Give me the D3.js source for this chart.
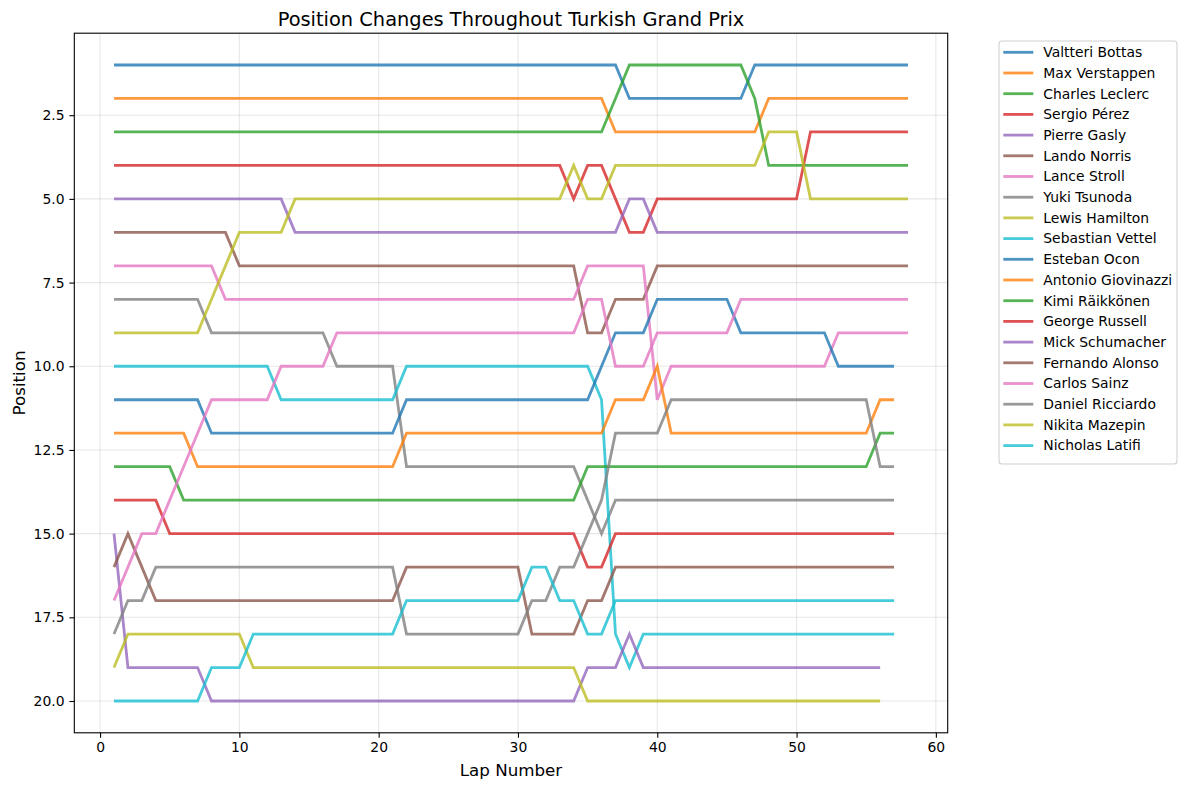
<!DOCTYPE html>
<html>
<head>
<meta charset="utf-8">
<script src="https://cdn.jsdelivr.net/npm/d3@7"></script>
<style>
  body { margin: 0; background: #fff; }
  svg { font-family: "DejaVu Sans", sans-serif; }
</style>
</head>
<body>
<svg id="chart" width="1187" height="790"></svg>
<script>
// driver names, in legend order
const drivers = [
  "Valtteri Bottas", "Max Verstappen", "Charles Leclerc", "Sergio Pérez", "Pierre Gasly",
  "Lando Norris", "Lance Stroll", "Yuki Tsunoda", "Lewis Hamilton", "Sebastian Vettel",
  "Esteban Ocon", "Antonio Giovinazzi", "Kimi Räikkönen", "George Russell", "Mick Schumacher",
  "Fernando Alonso", "Carlos Sainz", "Daniel Ricciardo", "Nikita Mazepin", "Nicholas Latifi"
];

// position on each lap, starting at lap 1
const bottas = [1,1,1,1,1,1,1,1,1,1, 1,1,1,1,1,1,1,1,1,1, 1,1,1,1,1,1,1,1,1,1, 1,1,1,1,1,1,1,2,2,2, 2,2,2,2,2,2,1,1,1,1, 1,1,1,1,1,1,1,1];
const verstappen = [2,2,2,2,2,2,2,2,2,2, 2,2,2,2,2,2,2,2,2,2, 2,2,2,2,2,2,2,2,2,2, 2,2,2,2,2,2,3,3,3,3, 3,3,3,3,3,3,3,2,2,2, 2,2,2,2,2,2,2,2];
const leclerc = [3,3,3,3,3,3,3,3,3,3, 3,3,3,3,3,3,3,3,3,3, 3,3,3,3,3,3,3,3,3,3, 3,3,3,3,3,3,2,1,1,1, 1,1,1,1,1,1,2,4,4,4, 4,4,4,4,4,4,4,4];
const perez = [4,4,4,4,4,4,4,4,4,4, 4,4,4,4,4,4,4,4,4,4, 4,4,4,4,4,4,4,4,4,4, 4,4,4,5,4,4,5,6,6,5, 5,5,5,5,5,5,5,5,5,5, 3,3,3,3,3,3,3,3];
const gasly = [5,5,5,5,5,5,5,5,5,5, 5,5,5,6,6,6,6,6,6,6, 6,6,6,6,6,6,6,6,6,6, 6,6,6,6,6,6,6,5,5,6, 6,6,6,6,6,6,6,6,6,6, 6,6,6,6,6,6,6,6];
const norris = [6,6,6,6,6,6,6,6,6,7, 7,7,7,7,7,7,7,7,7,7, 7,7,7,7,7,7,7,7,7,7, 7,7,7,7,9,9,8,8,8,7, 7,7,7,7,7,7,7,7,7,7, 7,7,7,7,7,7,7,7];
const stroll = [7,7,7,7,7,7,7,7,8,8, 8,8,8,8,8,8,8,8,8,8, 8,8,8,8,8,8,8,8,8,8, 8,8,8,8,7,7,7,7,7,11, 10,10,10,10,10,10,10,10,10,10, 10,10,9,9,9,9,9,9];
const tsunoda = [8,8,8,8,8,8,8,9,9,9, 9,9,9,9,9,9,10,10,10,10, 10,13,13,13,13,13,13,13,13,13, 13,13,13,13,14,15,14,14,14,14, 14,14,14,14,14,14,14,14,14,14, 14,14,14,14,14,14,14];
const hamilton = [9,9,9,9,9,9,9,8,7,6, 6,6,6,5,5,5,5,5,5,5, 5,5,5,5,5,5,5,5,5,5, 5,5,5,4,5,5,4,4,4,4, 4,4,4,4,4,4,4,3,3,3, 5,5,5,5,5,5,5,5];
const vettel = [10,10,10,10,10,10,10,10,10,10, 10,10,11,11,11,11,11,11,11,11, 11,10,10,10,10,10,10,10,10,10, 10,10,10,10,10,11,18,19,18,18, 18,18,18,18,18,18,18,18,18,18, 18,18,18,18,18,18,18];
const ocon = [11,11,11,11,11,11,11,12,12,12, 12,12,12,12,12,12,12,12,12,12, 12,11,11,11,11,11,11,11,11,11, 11,11,11,11,11,10,9,9,9,8, 8,8,8,8,8,9,9,9,9,9, 9,9,10,10,10,10,10];
const giovinazzi = [12,12,12,12,12,12,13,13,13,13, 13,13,13,13,13,13,13,13,13,13, 13,12,12,12,12,12,12,12,12,12, 12,12,12,12,12,12,11,11,11,10, 12,12,12,12,12,12,12,12,12,12, 12,12,12,12,12,11,11];
const raikkonen = [13,13,13,13,13,14,14,14,14,14, 14,14,14,14,14,14,14,14,14,14, 14,14,14,14,14,14,14,14,14,14, 14,14,14,14,13,13,13,13,13,13, 13,13,13,13,13,13,13,13,13,13, 13,13,13,13,13,12,12];
const russell = [14,14,14,14,15,15,15,15,15,15, 15,15,15,15,15,15,15,15,15,15, 15,15,15,15,15,15,15,15,15,15, 15,15,15,15,16,16,15,15,15,15, 15,15,15,15,15,15,15,15,15,15, 15,15,15,15,15,15,15];
const schumacher = [15,19,19,19,19,19,19,20,20,20, 20,20,20,20,20,20,20,20,20,20, 20,20,20,20,20,20,20,20,20,20, 20,20,20,20,19,19,19,18,19,19, 19,19,19,19,19,19,19,19,19,19, 19,19,19,19,19,19];
const alonso = [16,15,16,17,17,17,17,17,17,17, 17,17,17,17,17,17,17,17,17,17, 17,16,16,16,16,16,16,16,16,16, 18,18,18,18,17,17,16,16,16,16, 16,16,16,16,16,16,16,16,16,16, 16,16,16,16,16,16,16];
const sainz = [17,16,15,15,14,13,12,11,11,11, 11,11,10,10,10,10,9,9,9,9, 9,9,9,9,9,9,9,9,9,9, 9,9,9,9,8,8,10,10,10,9, 9,9,9,9,9,8,8,8,8,8, 8,8,8,8,8,8,8,8];
const ricciardo = [18,17,17,16,16,16,16,16,16,16, 16,16,16,16,16,16,16,16,16,16, 16,18,18,18,18,18,18,18,18,18, 17,17,16,16,15,14,12,12,12,12, 11,11,11,11,11,11,11,11,11,11, 11,11,11,11,11,13,13];
const mazepin = [19,18,18,18,18,18,18,18,18,18, 19,19,19,19,19,19,19,19,19,19, 19,19,19,19,19,19,19,19,19,19, 19,19,19,19,20,20,20,20,20,20, 20,20,20,20,20,20,20,20,20,20, 20,20,20,20,20,20];
const latifi = [20,20,20,20,20,20,20,19,19,19, 18,18,18,18,18,18,18,18,18,18, 18,17,17,17,17,17,17,17,17,17, 16,16,17,17,18,18,17,17,17,17, 17,17,17,17,17,17,17,17,17,17, 17,17,17,17,17,17,17];

const positions = [bottas, verstappen, leclerc, perez, gasly, norris, stroll, tsunoda, hamilton, vettel,
  ocon, giovinazzi, raikkonen, russell, schumacher, alonso, sainz, ricciardo, mazepin, latifi];

const xTicks = [0, 10, 20, 30, 40, 50, 60];
const yTicks = [2.5, 5, 7.5, 10, 12.5, 15, 17.5, 20];

const colors = d3.schemeCategory10;

const svg = d3.select("#chart");
const plot = { left: 74.3, right: 947.7, top: 33.2, bottom: 732.8 };

const x = d3.scaleLinear().domain([-1.85, 60.85]).range([plot.left, plot.right]);
const y = d3.scaleLinear().domain([0.05, 20.95]).range([plot.top, plot.bottom]); // inverted: 1st at top

// grid
const grid = svg.append("g").attr("stroke", "#b0b0b0").attr("stroke-opacity", 0.3).attr("stroke-width", 1.1);
grid.selectAll(".gx").data(xTicks).join("line")
  .attr("x1", d => x(d)).attr("x2", d => x(d))
  .attr("y1", plot.top).attr("y2", plot.bottom);
grid.selectAll(".gy").data(yTicks).join("line")
  .attr("x1", plot.left).attr("x2", plot.right)
  .attr("y1", d => y(d)).attr("y2", d => y(d));

// driver lines
const line = d3.line().x((d, i) => x(i + 1)).y(d => y(d));
svg.append("g").selectAll("path").data(positions).join("path")
  .attr("d", d => line(d))
  .attr("fill", "none")
  .attr("stroke", (d, i) => colors[i % 10])
  .attr("stroke-width", 2.8)
  .attr("stroke-opacity", 0.8)
  .attr("stroke-linejoin", "miter");

// axes
const xAxis = svg.append("g").attr("transform", `translate(0,${plot.bottom})`)
  .call(d3.axisBottom(x).tickValues(xTicks).tickSize(4.9).tickPadding(4.9).tickSizeOuter(0));
const yAxis = svg.append("g").attr("transform", `translate(${plot.left},0)`)
  .call(d3.axisLeft(y).tickValues(yTicks).tickFormat(d3.format(".1f")).tickSize(4.9).tickPadding(4.9).tickSizeOuter(0));
[xAxis, yAxis].forEach(a => {
  a.select(".domain").remove();
  a.selectAll("line").attr("stroke", "#000").attr("stroke-width", 1.1);
  a.selectAll("text").attr("font-size", 13.9).attr("fill", "#000").attr("font-family", "DejaVu Sans");
});

// frame
svg.append("rect")
  .attr("x", plot.left).attr("y", plot.top)
  .attr("width", plot.right - plot.left).attr("height", plot.bottom - plot.top)
  .attr("fill", "none").attr("stroke", "#000").attr("stroke-width", 1.1);

// title and labels
svg.append("text").attr("x", (plot.left + plot.right) / 2).attr("y", 25.5)
  .attr("text-anchor", "middle").attr("font-size", 19.4)
  .text("Position Changes Throughout Turkish Grand Prix");
svg.append("text").attr("x", (plot.left + plot.right) / 2).attr("y", 776)
  .attr("text-anchor", "middle").attr("font-size", 16.7)
  .text("Lap Number");
svg.append("text").attr("transform", `translate(25,${(plot.top + plot.bottom) / 2}) rotate(-90)`)
  .attr("text-anchor", "middle").attr("font-size", 16.7)
  .text("Position");

// legend
const legend = svg.append("g");
legend.append("rect")
  .attr("x", 999).attr("y", 41).attr("width", 178).attr("height", 423)
  .attr("rx", 3).attr("fill", "#fff").attr("fill-opacity", 0.8)
  .attr("stroke", "#d0d0d0").attr("stroke-width", 1.1);
const items = legend.selectAll(".item").data(drivers).join("g")
  .attr("transform", (d, i) => `translate(0,${52.3 + i * 20.7})`);
items.append("line")
  .attr("x1", 1003.3).attr("x2", 1033.3).attr("y1", 0).attr("y2", 0)
  .attr("stroke", (d, i) => colors[i % 10]).attr("stroke-width", 2.8).attr("stroke-opacity", 0.8);
items.append("text")
  .attr("x", 1043.3).attr("y", 0).attr("dy", "0.35em")
  .attr("font-size", 13.9)
  .text(d => d);
</script>
</body>
</html>
